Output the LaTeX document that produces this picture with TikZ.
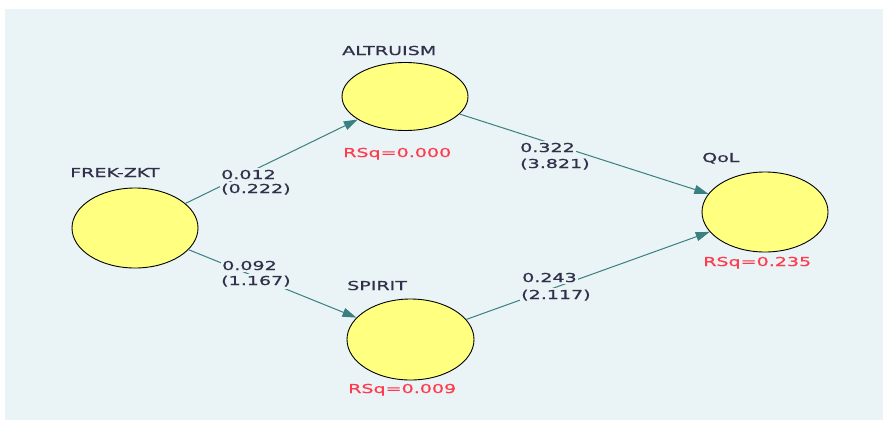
\documentclass[tikz,border=0pt]{standalone}
\usepackage{fontspec}
\usetikzlibrary{shapes.geometric,arrows.meta}
\newfontfamily\plsfont[FakeStretch=1.55,FakeBold=0.7]{DejaVu Sans}
\definecolor{panelbg}{HTML}{EAF3F5}
\definecolor{lvfill}{HTML}{FFFF80}
\definecolor{pathcol}{HTML}{3A8080}
\definecolor{txtcol}{HTML}{30304A}
\definecolor{rsqcol}{HTML}{FF3B4E}
\tikzset{
  latent/.style={ellipse, draw=black, line width=0.9pt, fill=lvfill, inner sep=0pt},
  lvname/.style={anchor=base west, inner sep=0pt, text=txtcol, font=\plsfont\fontsize{12.3}{14}\selectfont},
  rsq/.style={anchor=base west, inner sep=0pt, text=rsqcol, font=\plsfont\fontsize{12.3}{14}\selectfont},
  coef/.style={anchor=base west, inner xsep=1.5pt, inner ysep=2pt, fill=panelbg, text=txtcol, font=\plsfont\fontsize{12.3}{14}\selectfont},
  path/.style={draw=pathcol, line width=1pt, -{Triangle[length=14pt,width=9pt]}},
}
\begin{document}
\begin{tikzpicture}[x=1pt,y=-1pt]
  \useasboundingbox (0,0) rectangle (883,421);
  \fill[panelbg] (5,9) rectangle (883,420);

  % latent variables
  \node[latent, minimum width=126pt, minimum height=80pt] (frek) at (135,228) {};
  \node[latent, minimum width=126pt, minimum height=68pt] (alt)  at (405,96.5) {};
  \node[latent, minimum width=127pt, minimum height=81pt] (spi)  at (410.5,339.5) {};
  \node[latent, minimum width=126pt, minimum height=80pt] (qol)  at (765,212) {};

  % structural paths
  \draw[path] (frek) -- (alt);
  \draw[path] (frek) -- (spi);
  \draw[path] (alt) -- (qol);
  \draw[path] (spi) -- (qol);

  % path coefficients and t values
  \node[coef] (c1a) at (219.5,179) {0.012};
  \node[coef] (c1b) at (219.5,193) {(0.222)};
  \node[coef] (c2a) at (220.5,270) {0.092};
  \node[coef] (c2b) at (219.5,285) {(1.167)};
  \node[coef] (c3a) at (518.5,152) {0.322};
  \node[coef] (c3b) at (518.5,168) {(3.821)};
  \node[coef] (c4a) at (520.5,282) {0.243};
  \node[coef] (c4b) at (519.5,299) {(2.117)};

  % construct names
  \node[lvname] (nfrek) at (70,177) {FREK-ZKT};
  \node[lvname] (nalt)  at (342,55) {ALTRUISM};
  \node[lvname] (nspi)  at (347,290) {SPIRIT};
  \node[lvname] (nqol)  at (702,162) {QoL};

  % explained variance
  \node[rsq] (ralt) at (343,157) {RSq=0.000};
  \node[rsq] (rspi) at (348,393) {RSq=0.009};
  \node[rsq] (rqol) at (703,266) {RSq=0.235};
\end{tikzpicture}
\end{document}
